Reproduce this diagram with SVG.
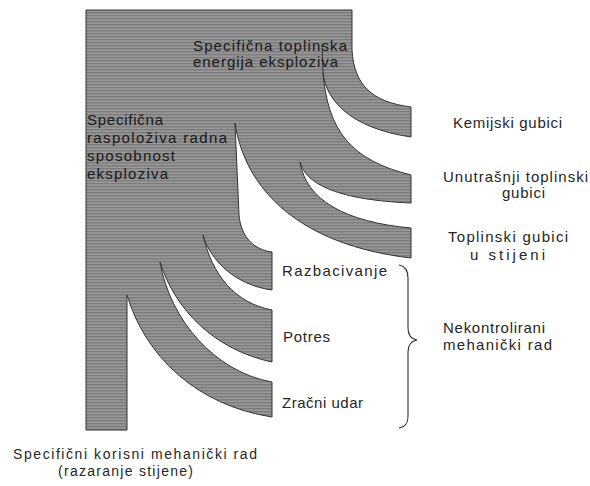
<svg xmlns="http://www.w3.org/2000/svg" width="590" height="486" viewBox="0 0 590 486">
<defs>
<pattern id="scan" width="6" height="3" patternUnits="userSpaceOnUse">
<rect width="6" height="3" fill="#8c8c8c"/>
<rect y="0" width="6" height="1" fill="#7c7c7c"/>
<rect y="2" width="6" height="0.6" fill="#a0a0a0"/>
</pattern>
</defs>
<style>
.lbl{font-family:"Liberation Sans",Arial,sans-serif;font-size:15px;fill:#262626}
.sm{font-size:14px}
.in{font-family:"Liberation Sans",Arial,sans-serif;font-size:15px;fill:#1a1a1a}
.edge{fill:none;stroke:#2e2e2e;stroke-width:1.1}
</style>
<rect width="590" height="486" fill="#ffffff"/>
<g id="flow">
<path fill="url(#scan)" stroke="#333" stroke-width="1" stroke-linejoin="miter" d="M86 10 L352 10 L352 50 C354 85 372 102 411 107 L411 137 C350 128 326 100 323 73 C328 130 350 160 411 175 L411 203 C340 200 306 185 300 162 C306 200 345 222 411 228 L411 258 C300 245 245 190 235 123 L239 215 C241 238 255 250 272 252 L272 290 C235 285 210 260 203 235 C212 275 235 303 272 310 L272 362 C215 350 175 310 160 262 C170 320 215 372 272 382 L272 417 C195 405 145 355 127 295 L127 430 L86 430 Z"/>
<line x1="322" y1="44" x2="323" y2="73" stroke="#333" stroke-width="1"/>
</g>
<g id="n-toplinska">
<text class="in" x="193" y="51" textLength="154" lengthAdjust="spacing">Specifična toplinska</text>
<text class="in" x="193" y="67" textLength="145" lengthAdjust="spacing">energija eksploziva</text>
</g>
<g id="n-raspoloziva">
<text class="in" x="87" y="125" textLength="76" lengthAdjust="spacing">Specifična</text>
<text class="in" x="87" y="143" textLength="140" lengthAdjust="spacing">raspoloživa radna</text>
<text class="in" x="87" y="161" textLength="88" lengthAdjust="spacing">sposobnost</text>
<text class="in" x="87" y="179" textLength="81" lengthAdjust="spacing">eksploziva</text>
</g>
<g id="n-kemijski">
<text class="lbl" x="453" y="128" textLength="109" lengthAdjust="spacing">Kemijski gubici</text>
</g>
<g id="n-unutrasnji">
<text class="lbl" x="443" y="182" textLength="145" lengthAdjust="spacing">Unutrašnji toplinski</text>
<text class="lbl" x="502" y="198" textLength="43" lengthAdjust="spacing">gubici</text>
</g>
<g id="n-stijena">
<text class="lbl" x="448" y="242" textLength="120" lengthAdjust="spacing">Toplinski gubici</text>
<text class="lbl" x="470" y="260" textLength="75" lengthAdjust="spacing">u stijeni</text>
</g>
<g id="n-razbacivanje">
<text class="lbl" x="282" y="276" textLength="105" lengthAdjust="spacing">Razbacivanje</text>
</g>
<g id="n-potres">
<text class="lbl" x="283" y="342" textLength="47" lengthAdjust="spacing">Potres</text>
</g>
<g id="n-zracni">
<text class="lbl" x="282" y="408" textLength="81" lengthAdjust="spacing">Zračni udar</text>
</g>
<g id="n-nekontrolirani">
<text class="lbl" x="443" y="333" textLength="102" lengthAdjust="spacing">Nekontrolirani</text>
<text class="lbl" x="443" y="350" textLength="109" lengthAdjust="spacing">mehanički rad</text>
</g>
<g id="n-korisni">
<text class="lbl sm" x="13" y="459" textLength="244" lengthAdjust="spacing">Specifični korisni mehanički rad</text>
<text class="lbl sm" x="58" y="476" textLength="135" lengthAdjust="spacing">(razaranje stijene)</text>
</g>
<g id="connectors">
<path class="edge" d="M399 265 C405 266 408 270 408 278 L408 328 C408 335 411 339 417 340 C411 341 408 345 408 352 L408 416 C408 424 405 427 399 428"/>
</g>
</svg>
